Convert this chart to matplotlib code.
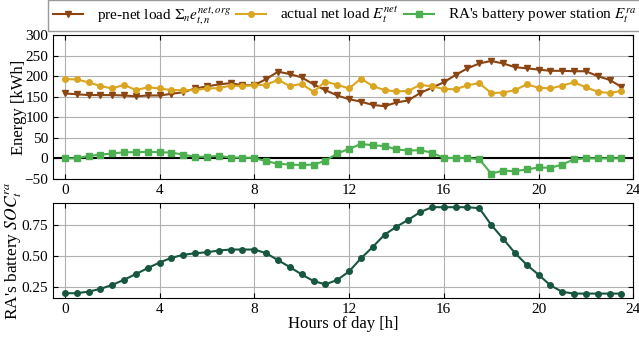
import numpy as np
import matplotlib
matplotlib.use("Agg")
import matplotlib.pyplot as plt

plt.rcParams["font.family"] = ["Liberation Serif", "DejaVu Serif"]
plt.rcParams["mathtext.fontset"] = "stix"

hours = np.arange(48) * 0.5

pre_net = [158, 156, 154, 154, 154, 153, 151, 153, 153, 157, 161, 170,
           175, 180, 183, 178, 178, 193, 211, 205, 197, 180, 166, 153,
           144, 138, 130, 127, 136, 141, 159, 172, 185, 203, 219, 231,
           237, 231, 222, 219, 216, 213, 213, 212, 212, 200, 191, 174]

actual_net = [193, 192, 185, 176, 170, 179, 166, 173, 170, 166, 166, 166,
              170, 171, 177, 176, 178, 179, 191, 176, 181, 162, 187, 179,
              170, 194, 176, 166, 163, 164, 179, 175, 169, 168, 178, 183,
              159, 160, 166, 180, 172, 170, 177, 185, 173, 162, 159, 164]

battery = [0, 0, 6, 9, 12, 15, 15, 16, 15, 14, 9, 4,
           4, 6, 2, 2, 1, -7, -13, -15, -16, -15, -6, 12,
           23, 35, 32, 30, 22, 19, 20, 14, 1, 1, 1, -2,
           -37, -30, -31, -27, -22, -23, -15, -2, 0, 0, 0, 0]

soc = [0.202, 0.202, 0.215, 0.237, 0.269, 0.311, 0.357, 0.405, 0.45, 0.488,
       0.512, 0.525, 0.533, 0.547, 0.555, 0.555, 0.555, 0.525, 0.469, 0.413,
       0.354, 0.30, 0.274, 0.309, 0.378, 0.483, 0.576, 0.675, 0.739, 0.795,
       0.857, 0.897, 0.897, 0.897, 0.897, 0.889, 0.755, 0.643, 0.528, 0.432,
       0.352, 0.266, 0.213, 0.199, 0.199, 0.199, 0.199, 0.199]

fig = plt.figure(figsize=(6.39, 3.37), dpi=100)
ax1 = fig.add_axes([0.083, 0.469, 0.908, 0.427])
ax2 = fig.add_axes([0.083, 0.116, 0.908, 0.282])

for ax in (ax1, ax2):
    ax.grid(True, color="#b0b0b0", linewidth=0.8)
    ax.set_axisbelow(True)
    ax.tick_params(direction="in", top=True, right=True, labelsize=11)
    ax.set_xlim(-0.5, 24)
    ax.set_xticks([0, 4, 8, 12, 16, 20, 24])

ax1.axhline(0, color="black", linewidth=1.5, zorder=1)
l1, = ax1.plot(hours, pre_net, color="#8B4513", marker="v", markersize=4.5,
               linewidth=1.5, label=r"pre-net load $\Sigma_n e_{t,n}^{net,org}$")
l2, = ax1.plot(hours, actual_net, color="#DAA520", marker="o", markersize=4,
               linewidth=1.5, label=r"actual net load $E_t^{net}$")
l3, = ax1.plot(hours, battery, color="#4CAF50", marker="s", markersize=4,
               linewidth=1.5, label=r"RA's battery power station $E_t^{ra}$")
ax1.set_ylim(-50, 300)
ax1.set_yticks(range(-50, 301, 50))
ax1.set_ylabel("Energy [kWh]", fontsize=12, labelpad=-2)

ax2.plot(hours, soc, color="#17563F", marker="o", markersize=4, linewidth=1.5)
ax2.set_yticks([0.25, 0.5, 0.75])
ax2.set_ylabel(r"RA's battery $SOC_t^{ra}$", fontsize=12.5, labelpad=-1.5)
ax2.set_xlabel("Hours of day [h]", fontsize=12, labelpad=0)

fig.legend(handles=[l1, l2, l3], loc="center", bbox_to_anchor=(0.539, 0.953),
           ncol=3, fontsize=11, frameon=True, fancybox=False, edgecolor="#808080",
           handlelength=2.0, columnspacing=0.3, handletextpad=0.9,
           borderpad=0.3)

fig.savefig("out.png", dpi=100)
